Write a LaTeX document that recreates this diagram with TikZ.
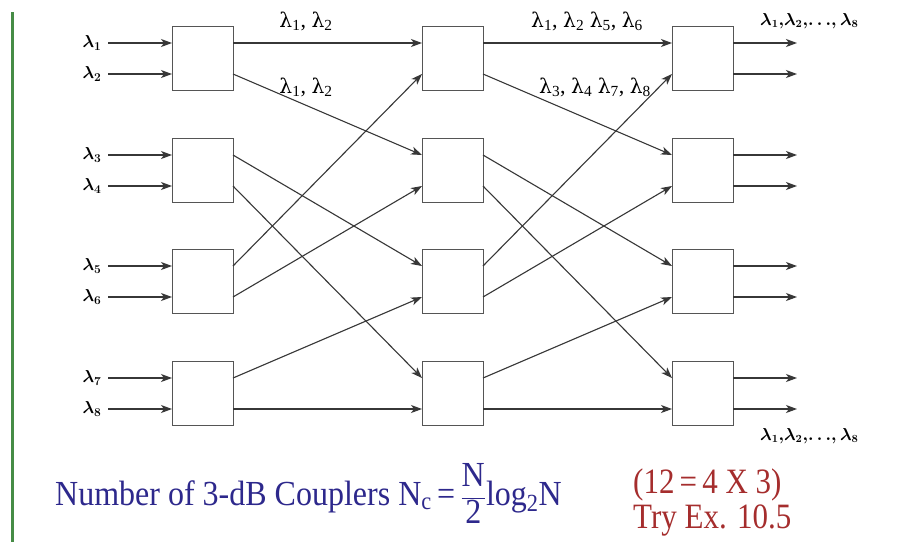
\documentclass[tikz,border=0pt]{standalone}
\usepackage{fontspec}
\setmainfont{Liberation Serif}
\newfontfamily\tnr{Liberation Serif}
\newfontfamily\grk{DejaVu Serif}
\newcommand{\lam}{{\grk\addfontfeature{Scale=0.92}λ}}
\usetikzlibrary{arrows.meta,calc}
\definecolor{linegray}{RGB}{55,55,55}
\definecolor{boxgray}{RGB}{85,85,85}
\definecolor{navytxt}{RGB}{45,40,140}
\definecolor{redtxt}{RGB}{165,45,45}
\definecolor{greenbar}{RGB}{70,140,70}
\begin{document}
\begin{tikzpicture}[x=1pt,y=-1pt,
  cbox/.style={draw=boxgray,line width=1.4pt,minimum width=61pt,minimum height=64pt,inner sep=0pt,fill=white,anchor=north west},
  link/.style={draw=linegray,line width=1.1pt,-{Stealth[length=11pt,width=8pt,inset=3pt]}},
  inlab/.style={inner sep=0pt,font=\fontsize{18}{18}\selectfont\boldmath},
  wlab/.style={inner sep=0pt,anchor=base,font=\fontsize{22}{22}\selectfont\tnr},
  blab/.style={inner sep=0pt,anchor=base west,font=\fontsize{16}{16}\selectfont\boldmath},
  btxt/.style={inner sep=0pt,anchor=base west,text=navytxt,font=\fontsize{32}{32}\selectfont\tnr},
  rtxt/.style={inner sep=0pt,anchor=base west,text=redtxt,font=\fontsize{31}{31}\selectfont\tnr},
]
\useasboundingbox (0,0) rectangle (899,542);
\fill[white] (0,0) rectangle (899,542);
\draw[greenbar,line width=3pt] (12,12) -- (12,542);

% boxes and ports
\foreach \c/\x in {A/172,B/422,C/672}{
  \foreach \r/\y in {1/26,2/138,3/249,4/361}{
    \node[cbox] (\c\r) at (\x,\y) {};
    \coordinate (\c\r-wt) at (\x,\y+17);
    \coordinate (\c\r-wb) at (\x,\y+48);
    \coordinate (\c\r-et) at (\x+61,\y+17);
    \coordinate (\c\r-eb) at (\x+61,\y+48);
  }
}

% input labels and arrows
\foreach \i/\y in {1/43,2/74,3/155,4/186,5/266,6/297,7/378,8/409}{
  \node[inlab] (L\i) at (92,\y) {$\lambda_{\i}$};
  \coordinate (S\i) at (108,\y);
}
\draw[link] (S1) -- (A1-wt);
\draw[link] (S2) -- (A1-wb);
\draw[link] (S3) -- (A2-wt);
\draw[link] (S4) -- (A2-wb);
\draw[link] (S5) -- (A3-wt);
\draw[link] (S6) -- (A3-wb);
\draw[link] (S7) -- (A4-wt);
\draw[link] (S8) -- (A4-wb);

% stage 1
\draw[link] (A1-et) -- (B1-wt);
\draw[link] (A1-eb) -- (B2-wt);
\draw[link] (A2-et) -- (B3-wt);
\draw[link] (A2-eb) -- (B4-wt);
\draw[link] (A3-et) -- (B1-wb);
\draw[link] (A3-eb) -- (B2-wb);
\draw[link] (A4-et) -- (B3-wb);
\draw[link] (A4-eb) -- (B4-wb);

% stage 2
\draw[link] (B1-et) -- (C1-wt);
\draw[link] (B1-eb) -- (C2-wt);
\draw[link] (B2-et) -- (C3-wt);
\draw[link] (B2-eb) -- (C4-wt);
\draw[link] (B3-et) -- (C1-wb);
\draw[link] (B3-eb) -- (C2-wb);
\draw[link] (B4-et) -- (C3-wb);
\draw[link] (B4-eb) -- (C4-wb);

% outputs
\foreach \r/\y in {1/26,2/138,3/249,4/361}{
  \coordinate (O\r t) at (797,\y+17);
  \coordinate (O\r b) at (797,\y+48);
  \draw[link] (C\r-et) -- (O\r t);
  \draw[link] (C\r-eb) -- (O\r b);
}

% wavelength labels
\node[wlab] (t1) at (306,27) {\lam\textsubscript{1}, \lam\textsubscript{2}};
\node[wlab] (t2) at (306,93) {\lam\textsubscript{1}, \lam\textsubscript{2}};
\node[wlab] (t3) at (587,27) {\lam\textsubscript{1}, \lam\textsubscript{2} \lam\textsubscript{5}, \lam\textsubscript{6}};
\node[wlab] (t4) at (595,93) {\lam\textsubscript{3}, \lam\textsubscript{4} \lam\textsubscript{7}, \lam\textsubscript{8}};
\node[blab] (r1) at (760,25) {$\lambda_1,\!\lambda_2,\!\ldots\!,\lambda_8$};
\node[blab] (r2) at (760,440) {$\lambda_1,\!\lambda_2,\!\ldots\!,\lambda_8$};

% bottom text
\node[btxt] (nc) at (55,505)
  {\scalebox{1}[1.1]{Number of 3-dB Couplers N\textsubscript{c}\,=\,$\displaystyle\frac{\mbox{\tnr N}}{\mbox{\tnr 2}}$log\textsubscript{2}N}};
\node[rtxt] (ex1) at (633,493) {\scalebox{1}[1.15]{(12\,=\,4 X 3)}};
\node[rtxt] (ex2) at (633,528) {\scalebox{1}[1.15]{Try Ex. 10.5}};
\end{tikzpicture}
\end{document}
